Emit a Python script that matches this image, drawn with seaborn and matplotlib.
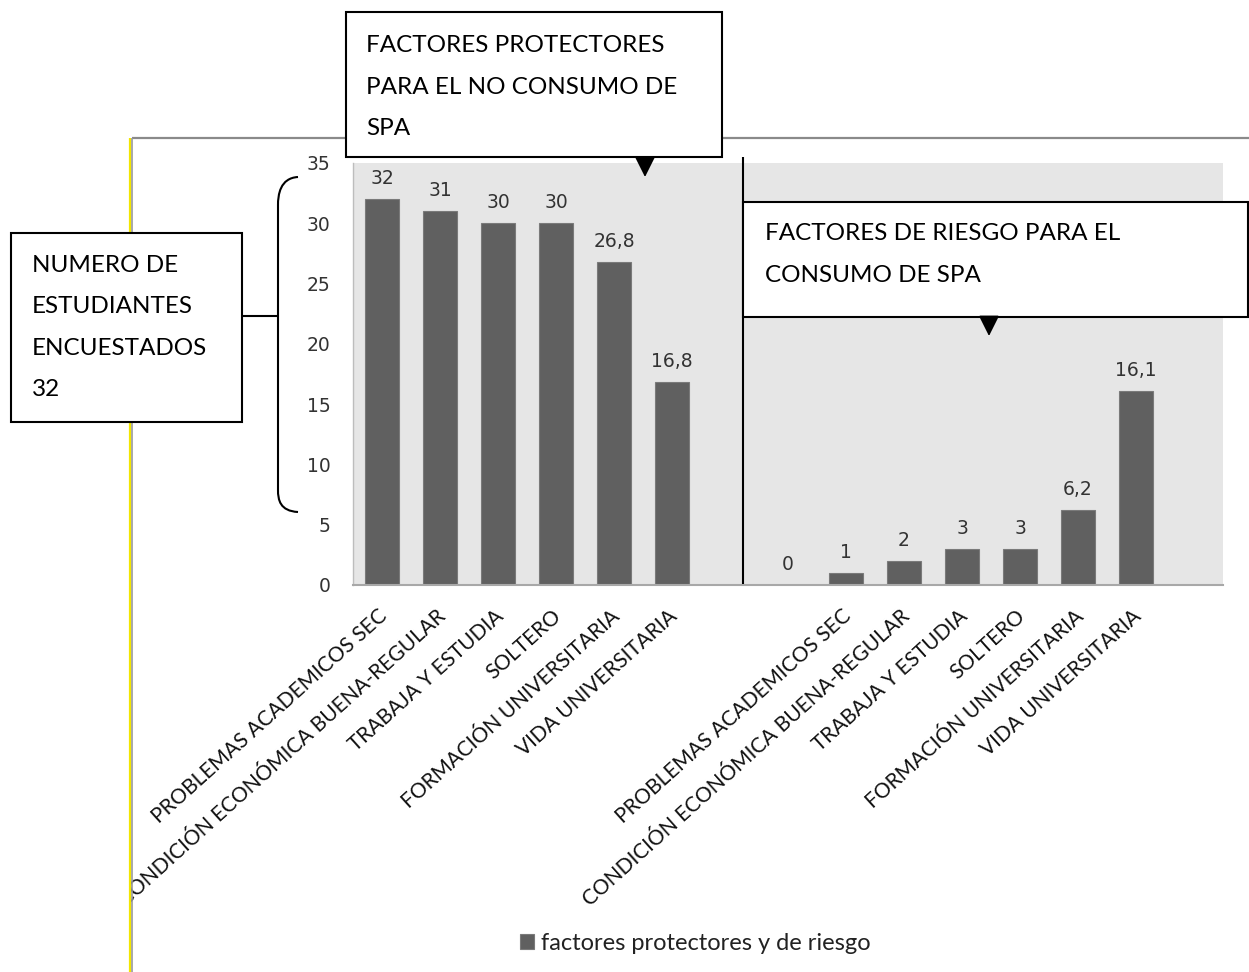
import numpy as np
import pandas as pd
import seaborn as sns
import matplotlib
matplotlib.use("Agg")
import matplotlib.pyplot as plt
from matplotlib.patches import Rectangle, FancyArrowPatch, PathPatch
from matplotlib.path import Path
from matplotlib.lines import Line2D
from matplotlib.transforms import ScaledTranslation

# ---------------- data ----------------
categorias = ["PROBLEMAS ACADEMICOS SEC", "CONDICIÓN ECONÓMICA BUENA-REGULAR",
              "TRABAJA Y ESTUDIA", "SOLTERO", "FORMACIÓN UNIVERSITARIA",
              "VIDA UNIVERSITARIA"]
valores_protectores = [32, 31, 30, 30, 26.8, 16.8]
valor_cero_riesgo = [0]
valores_riesgo = [1, 2, 3, 3, 6.2, 16.1]
serie = "factores protectores y de riesgo"
yticks = [0, 5, 10, 15, 20, 25, 30, 35]

caja_protectores = ["FACTORES PROTECTORES", "PARA EL NO CONSUMO DE", "SPA"]
caja_riesgo = ["FACTORES DE RIESGO PARA EL", "CONSUMO DE SPA"]
caja_estudiantes = ["NUMERO DE", "ESTUDIANTES", "ENCUESTADOS", "32"]

# slot layout: 6 protective, gap, zero, 6 risk, gap
keys = [f"s{i}" for i in range(15)]
tick_labels = categorias + ["", ""] + categorias + [""]
rows = []
for i, v in enumerate(valores_protectores):
    rows.append((keys[i], v))
rows.append((keys[7], valor_cero_riesgo[0]))
for i, v in enumerate(valores_riesgo):
    rows.append((keys[8 + i], v))
df = pd.DataFrame(rows, columns=["slot", "valor"])
df["serie"] = serie

# ---------------- figure ----------------
W, H = 1249, 972
sns.set_theme(style="white")
plt.rcParams["font.family"] = ["DejaVu Sans"]
fig = plt.figure(figsize=(W / 100, H / 100), dpi=100)
fig.patch.set_facecolor("white")

def fx(x):
    return x / W

def fy(y):
    return 1 - y / H

ax_l, ax_r, ax_t, ax_b = 353, 1223, 163, 585
ax = fig.add_axes([fx(ax_l), fy(ax_b), fx(ax_r - ax_l), (ax_b - ax_t) / H])
ax.set_facecolor("#e6e6e6")

bar_color = "#606060"
sns.barplot(data=df, x="slot", y="valor", hue="serie", order=keys,
            palette={serie: bar_color}, width=0.6, dodge=False,
            saturation=1, edgecolor="#7a7a7a", linewidth=0.8, ax=ax,
            legend=True)

ax.set_ylim(0, 35)
ax.set_xlim(-0.5, 14.5)
ax.set_yticks(yticks)
ax.set_yticklabels([str(t) for t in yticks], fontsize=13.5, color="#333333",
                   family="DejaVu Sans")
ax.set_xticks(range(len(keys)))
ax.set_xticklabels(tick_labels, rotation=42, ha="right", va="top",
                   rotation_mode="anchor", fontsize=15, family="Lato",
                   color="#111111")
ax.tick_params(axis="x", length=0, pad=15)
ax.tick_params(axis="y", length=0, pad=16)
shift = ScaledTranslation(-4 / 100, 0, fig.dpi_scale_trans)
for lbl in ax.get_xticklabels():
    lbl.set_transform(lbl.get_transform() + shift)
ax.set_xlabel("")
ax.set_ylabel("")
for s in ["top", "right"]:
    ax.spines[s].set_visible(False)
ax.spines["left"].set_color("#bdbdbd")
ax.spines["left"].set_linewidth(1.0)
ax.spines["bottom"].set_color("#a8a8a8")
ax.spines["bottom"].set_linewidth(1.5)

for cont in ax.containers:
    ax.bar_label(cont, fmt=lambda v: f"{v:g}".replace(".", ","), padding=8,
                 fontsize=13.5, color="#333333", family="DejaVu Sans")

# legend
leg = ax.legend(loc="center", bbox_to_anchor=(fx(695), fy(943)),
                bbox_transform=fig.transFigure, frameon=False,
                handlelength=0.6, handleheight=0.6, handletextpad=0.3,
                prop={"family": "Lato", "size": 17})
for t in leg.get_texts():
    t.set_color("#222222")

# ---------------- decorations (figure pixel coords) ----------------
def line(x0, y0, x1, y1, color="black", lw=1.5, z=5):
    fig.add_artist(Line2D([fx(x0), fx(x1)], [fy(y0), fy(y1)],
                          transform=fig.transFigure, color=color, lw=lw,
                          zorder=z, solid_capstyle="butt"))

# mask anything outside the chart's left border
fig.add_artist(Rectangle((0, 0), fx(130), fy(138), transform=fig.transFigure,
                         facecolor="white", edgecolor="none", zorder=2))

# chart outer border
line(132, 138, 1249, 138, color="#8a8a8a", lw=1.6, z=3)
line(130, 138, 130, 972, color="#f2e600", lw=1.6, z=3)
line(132, 138, 132, 972, color="#9a9a9a", lw=1.2, z=3)

def box(x0, y0, x1, y1):
    fig.add_artist(Rectangle((fx(x0), fy(y1)), fx(x1 - x0), (y1 - y0) / H,
                             transform=fig.transFigure, facecolor="white",
                             edgecolor="black", lw=1.5, zorder=10))

def arrow(x, y0, y1):
    fig.add_artist(FancyArrowPatch((fx(x), fy(y0)), (fx(x), fy(y1)),
                                   transform=fig.transFigure,
                                   arrowstyle="-|>,head_length=0.9,head_width=0.45",
                                   mutation_scale=14, color="black", lw=1.3,
                                   zorder=11, shrinkA=0, shrinkB=0))

def box_text(x, baselines, lines):
    for yb, s in zip(baselines, lines):
        fig.text(fx(x), fy(yb), s, ha="left", va="baseline", family="Lato",
                 fontsize=17.5, color="black", zorder=12)

# vertical divider
line(743, 157, 743, 584, color="black", lw=1.5, z=6)

# box 1
box(346, 12, 722, 157)
box_text(366, [52, 94, 135], caja_protectores)
arrow(645, 157, 177)

# box 2
box(743, 202, 1248, 317)
box_text(765, [240, 282], caja_riesgo)
arrow(989, 317, 336)

# box 3
box(11, 233, 242, 422)
box_text(32, [272, 313, 355, 396], caja_estudiantes)

# bracket
verts = [(298, 177), (280, 178), (278, 195), (278, 205),
         (278, 490),
         (278, 500), (280, 511), (298, 512)]
codes = [Path.MOVETO, Path.CURVE4, Path.CURVE4, Path.CURVE4,
         Path.LINETO,
         Path.CURVE4, Path.CURVE4, Path.CURVE4]
pv = [(fx(x), fy(y)) for x, y in verts]
fig.add_artist(PathPatch(Path(pv, codes), transform=fig.transFigure,
                         facecolor="none", edgecolor="black", lw=1.5, zorder=6))
line(242, 316, 278, 316, color="black", lw=1.5, z=6)

fig.savefig("out.png", dpi=100, facecolor="white")
